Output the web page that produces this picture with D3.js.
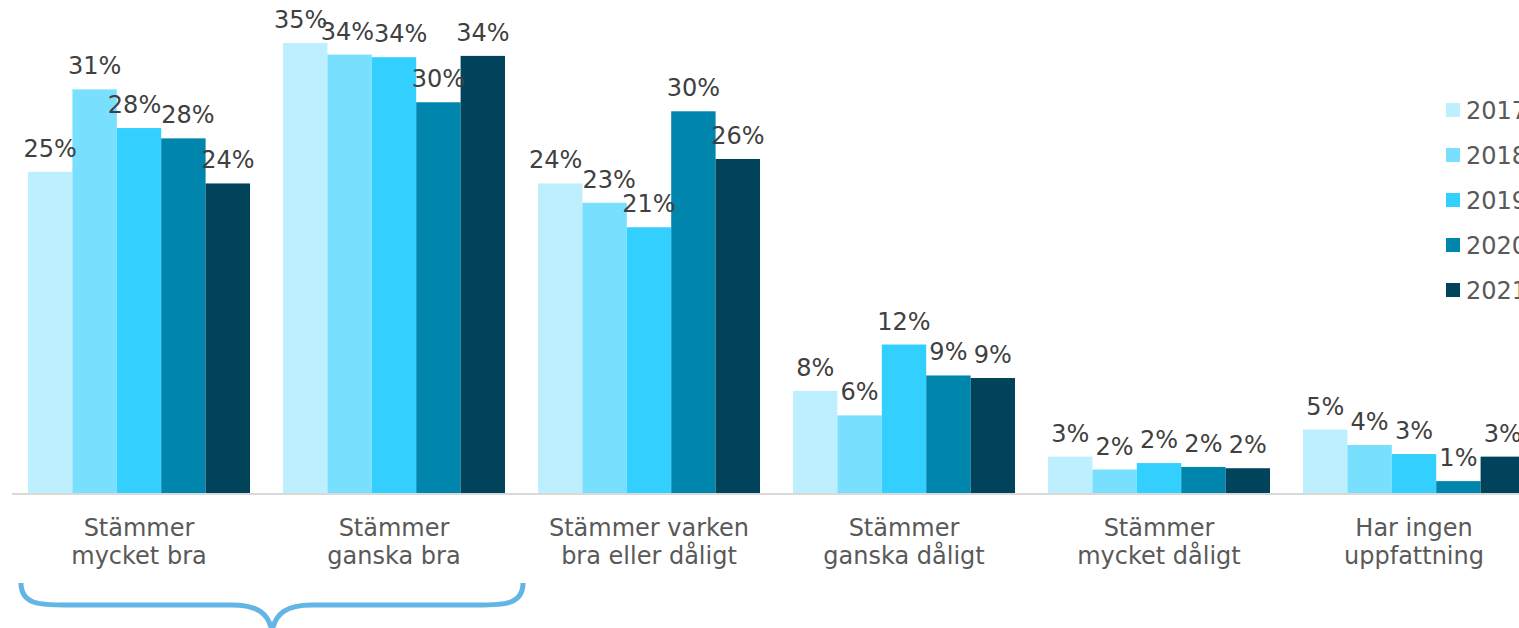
<!DOCTYPE html>
<html><head><meta charset="utf-8">
<script src="https://cdn.jsdelivr.net/npm/d3@7"></script>
<style>
html,body{margin:0;padding:0;background:#fff;overflow:hidden;}
svg{display:block;font-family:"DejaVu Sans",Verdana,sans-serif;}
</style></head>
<body>
<svg id="chart" width="1519" height="628"></svg>
<script>
const categories = [
  ["Stämmer", "mycket bra"],
  ["Stämmer", "ganska bra"],
  ["Stämmer varken", "bra eller dåligt"],
  ["Stämmer", "ganska dåligt"],
  ["Stämmer", "mycket dåligt"],
  ["Har ingen", "uppfattning"]
];
const years = ["2017", "2018", "2019", "2020", "2021"];
const v2017 = [25.0, 35.0, 24.1, 8.0, 2.9, 5.0];
const v2018 = [31.4, 34.1, 22.6, 6.1, 1.9, 3.8];
const v2019 = [28.4, 33.9, 20.7, 11.6, 2.4, 3.1];
const v2020 = [27.6, 30.4, 29.7, 9.2, 2.1, 1.0];
const v2021 = [24.1, 34.0, 26.0, 9.0, 2.0, 2.9];
const series = [v2017, v2018, v2019, v2020, v2021];
const colors = ["#BDEFFF", "#79DFFF", "#33CFFF", "#0085AD", "#00435A"];

(function () {
const svg = d3.select("#chart");
const baseY = 494;
const catKeys = categories.map((c, i) => i);
const x0 = d3.scaleBand().domain(catKeys).range([11.5, 1541.5])
  .paddingInner(33 / 255).paddingOuter(16.5 / 255);
const x1 = d3.scaleBand().domain(years).range([0, x0.bandwidth()]);
const y = d3.scaleLinear().domain([0, 35]).range([baseY, baseY - 451]);

// bars
const g = svg.append("g");
categories.forEach((c, ci) => {
  years.forEach((yr, si) => {
    const v = series[si][ci];
    g.append("rect")
      .attr("x", x0(ci) + x1(yr))
      .attr("y", y(v))
      .attr("width", x1.bandwidth())
      .attr("height", baseY - y(v))
      .attr("fill", colors[si]);
  });
});

// axis line
svg.append("line")
  .attr("x1", 12).attr("x2", 1519)
  .attr("y1", baseY).attr("y2", baseY)
  .attr("stroke", "#D9D9D9").attr("stroke-width", 2);

// value labels with simple collision dodge
const fmt = v => Math.round(v) + "%";
const labelFont = 24;
categories.forEach((c, ci) => {
  const labs = years.map((yr, si) => {
    const v = series[si][ci];
    return { text: fmt(v), cx: x0(ci) + x1(yr) + x1.bandwidth() / 2, by: y(v) - 15 };
  });
  const texts = labs.map(l => svg.append("text")
    .attr("x", l.cx).attr("y", l.by)
    .attr("text-anchor", "middle")
    .attr("font-size", labelFont)
    .attr("fill", "#404040")
    .text(l.text));
  labs.forEach((l, i) => { l.w = texts[i].node().getComputedTextLength(); });
  for (let i = 1; i < labs.length; i++) {
    const a = labs[i - 1], b = labs[i];
    if (Math.abs(a.by - b.by) < 20) {
      const overlap = (a.cx + a.w / 2) - (b.cx - b.w / 2);
      if (overlap > 0) { a.cx -= overlap / 2; b.cx += overlap / 2; }
    }
  }
  texts.forEach((t, i) => t.attr("x", labs[i].cx));
});

// category labels
categories.forEach((c, ci) => {
  const cx = x0(ci) + x0.bandwidth() / 2;
  const t = svg.append("text")
    .attr("text-anchor", "middle")
    .attr("font-size", 24)
    .attr("fill", "#595959");
  c.forEach((line, li) => {
    t.append("tspan").attr("x", cx).attr("y", 536 + li * 28).text(line);
  });
});

// legend
const leg = svg.append("g");
years.forEach((yr, si) => {
  const ly = 110 + si * 45;
  leg.append("rect").attr("x", 1446).attr("y", ly - 7).attr("width", 14).attr("height", 14)
    .attr("fill", colors[si]);
  leg.append("text").attr("x", 1466).attr("y", ly + 9)
    .attr("font-size", 24).attr("fill", "#595959").text(yr);
});

// brace under first two categories
const bx0 = x0(0) - 7;
const bx1 = x0(1) + x0.bandwidth() + 18;
const bm = (bx0 + bx1) / 2;
const bTop = 583, bMid = 605, bTip = 632;
const brace = d3.path();
brace.moveTo(bx0, bTop);
brace.bezierCurveTo(bx0, bMid, bx0 + 20, bMid, bx0 + 45, bMid);
brace.lineTo(bm - 40, bMid);
brace.bezierCurveTo(bm - 15, bMid, bm - 3, bMid + 8, bm, bTip);
brace.moveTo(bx1, bTop);
brace.bezierCurveTo(bx1, bMid, bx1 - 20, bMid, bx1 - 45, bMid);
brace.lineTo(bm + 40, bMid);
brace.bezierCurveTo(bm + 15, bMid, bm + 3, bMid + 8, bm, bTip);
svg.append("path").attr("d", brace.toString())
  .attr("fill", "none").attr("stroke", "#62B5E5").attr("stroke-width", 5);
})();
</script>
</body></html>
